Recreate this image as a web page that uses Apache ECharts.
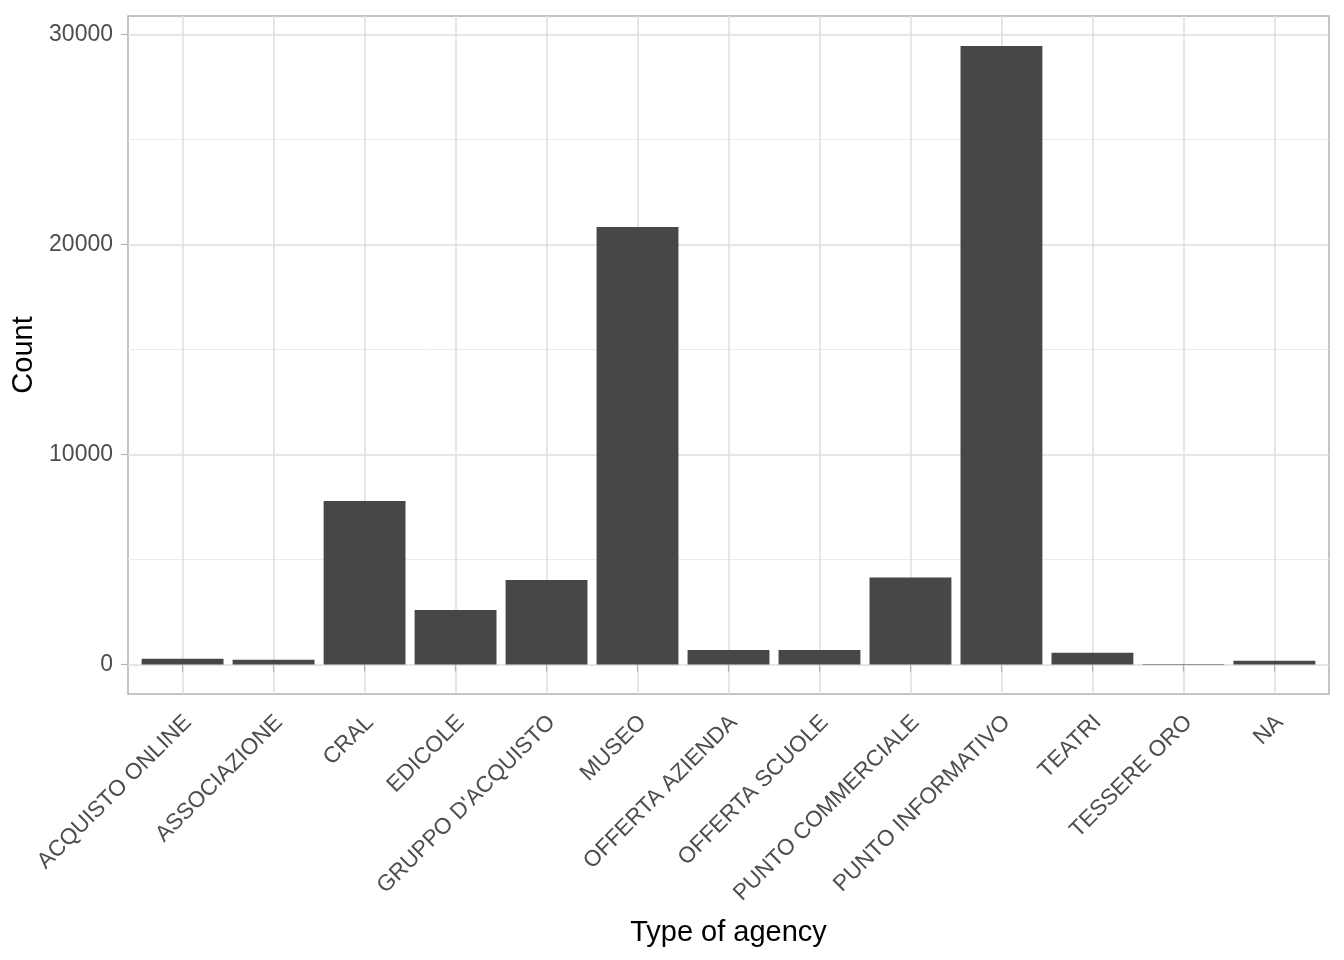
<!DOCTYPE html>
<html>
<head>
<meta charset="utf-8">
<script src="https://cdn.jsdelivr.net/npm/echarts@6/dist/echarts.min.js"></script>
<style>
  html, body { margin: 0; padding: 0; background: #ffffff; }
  #chart { width: 1344px; height: 960px; }
</style>
</head>
<body>
<div id="chart"></div>
<script>
// ---- data ----
var categories = ['ACQUISTO ONLINE', 'ASSOCIAZIONE', 'CRAL', 'EDICOLE', "GRUPPO D'ACQUISTO", 'MUSEO',
  'OFFERTA AZIENDA', 'OFFERTA SCUOLE', 'PUNTO COMMERCIALE', 'PUNTO INFORMATIVO', 'TEATRI', 'TESSERE ORO', 'NA'];
var counts = [272, 225, 7790, 2600, 4030, 20830, 700, 700, 4140, 29440, 560, 30, 180];
var yMajorTicks = [0, 10000, 20000, 30000];
var yMinorTicks = [5000, 15000, 25000];
var yRange = [-1400, 30870];
var xRange = [0.4, 13.6];

var positions = categories.map(function (c, i) { return i + 1; });
var barData = counts.map(function (v, i) { return [positions[i], v]; });

var FONT = '"Liberation Sans", Arial, Helvetica, sans-serif';
var chart = echarts.init(document.getElementById('chart'), null, { renderer: 'canvas' });

chart.setOption({
  animation: false,
  backgroundColor: '#ffffff',
  grid: {
    left: 128, right: 15, top: 16, bottom: 266,
    containLabel: false,
    outerBoundsMode: 'none',
    show: true,
    borderColor: '#b3b3b3',
    borderWidth: 1.5,
    backgroundColor: 'transparent'
  },
  xAxis: {
    type: 'value',
    min: xRange[0],
    max: xRange[1],
    name: 'Type of agency',
    nameLocation: 'middle',
    nameGap: 224,
    nameTextStyle: { fontFamily: FONT, fontSize: 29, color: '#000000' },
    axisLine: { show: false },
    axisTick: { show: true, length: 7, customValues: positions, lineStyle: { color: '#b3b3b3', width: 1.2 } },
    axisLabel: {
      customValues: positions,
      formatter: function (v) { return categories[Math.round(v) - 1] || ''; },
      rotate: 45,
      margin: 14,
      align: 'right',
      verticalAlign: 'top',
      padding: [0, 4, 0, 0],
      fontFamily: FONT,
      fontSize: 22.5,
      color: '#4d4d4d'
    },
    splitLine: { show: true, lineStyle: { color: '#dedede', width: 1.5 } }
  },
  yAxis: [
    {
      type: 'value',
      min: yRange[0],
      max: yRange[1],
      name: 'Count',
      nameLocation: 'middle',
      nameGap: 80,
      nameTextStyle: { fontFamily: FONT, fontSize: 29, color: '#000000' },
      axisLine: { show: false },
      axisTick: { show: true, length: 7, customValues: yMajorTicks, lineStyle: { color: '#b3b3b3', width: 1.2 } },
      axisLabel: {
        customValues: yMajorTicks,
        formatter: function (v) { return String(v); },
        margin: 15,
        fontFamily: FONT,
        fontSize: 23,
        color: '#4d4d4d'
      },
      splitLine: { show: true, lineStyle: { color: '#dedede', width: 1.5 } }
    },
    {
      type: 'value',
      min: yRange[0],
      max: yRange[1],
      position: 'left',
      axisLine: { show: false },
      axisTick: { show: false, customValues: yMinorTicks },
      axisLabel: { show: false, customValues: yMinorTicks },
      splitLine: { show: true, lineStyle: { color: '#ebebeb', width: 1 } }
    }
  ],
  series: [
    {
      type: 'bar',
      xAxisIndex: 0,
      yAxisIndex: 0,
      data: barData,
      barWidth: '90%',
      itemStyle: { color: '#474747' },
      z: 3
    }
  ]
});
</script>
</body>
</html>
